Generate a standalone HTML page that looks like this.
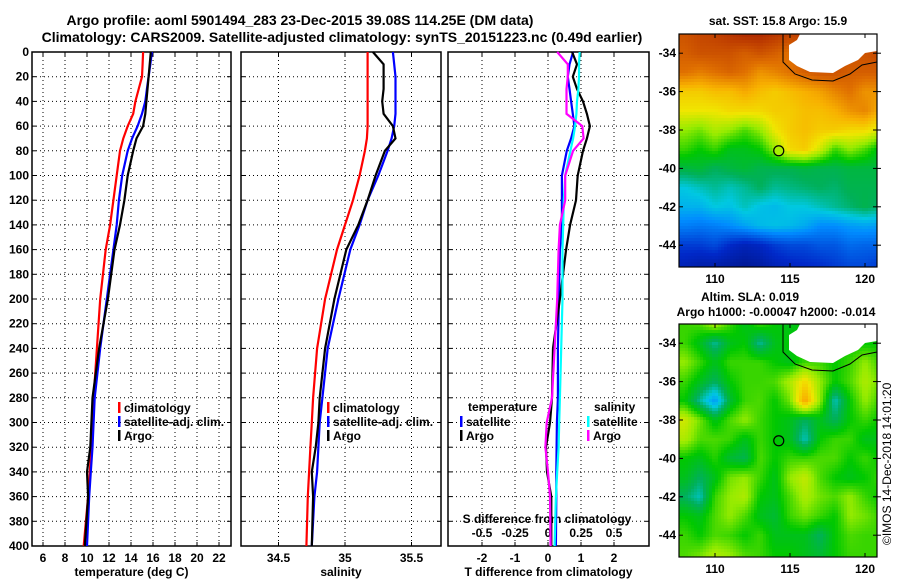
<!DOCTYPE html>
<html><head><meta charset="utf-8">
<style>
body{margin:0;background:#fff;}
svg{display:block;font-family:"Liberation Sans",Arial,sans-serif;font-weight:bold;}
text{fill:#000;}
</style></head>
<body>
<svg id="fig" width="900" height="580" xmlns="http://www.w3.org/2000/svg">
<rect width="900" height="580" fill="#fff"/>
<text x="300" y="25" font-size="14" text-anchor="middle">Argo profile: aoml 5901494_283 23-Dec-2015 39.08S 114.25E (DM data)</text>
<text x="342" y="42" font-size="14" text-anchor="middle">Climatology: CARS2009. Satellite-adjusted climatology: synTS_20151223.nc (0.49d earlier)</text>
<g id="p1"></g>
<g id="p2"></g>
<g id="p3"></g>
<g id="m1"></g>
<g id="m2"></g>
<text x="778" y="25" font-size="12" text-anchor="middle">sat. SST: 15.8 Argo: 15.9</text>
<text x="750" y="301" font-size="12" text-anchor="middle">Altim. SLA: 0.019</text>
<text x="776" y="316" font-size="12" text-anchor="middle">Argo h1000: -0.00047 h2000: -0.014</text>
<text transform="translate(891,545) rotate(-90)" font-size="12" font-weight="normal">©IMOS 14-Dec-2018 14:01:20</text>
</svg>
<script>
// ---------- profile data ----------
const depths      = [0,10,20,30,40,50,60,70,80,100,120,140,160,200,240,280,300,320,340,360,400];
const tempClim    = [15.1,15.05,15.0,14.7,14.4,14.2,13.7,13.3,13.0,12.7,12.4,12.1,11.7,11.2,10.9,10.6,10.5,10.4,10.25,10.1,9.7];
const tempSat     = [15.9,15.75,15.6,15.45,15.3,15.0,14.6,14.1,13.7,13.2,12.9,12.7,12.4,11.8,11.2,10.7,10.6,10.5,10.35,10.2,10.0];
const tempArgo    = [15.8,15.7,15.6,15.5,15.4,15.3,15.1,14.5,14.2,13.7,13.4,13.0,12.5,11.9,11.1,10.5,10.4,10.3,10.0,10.1,9.8];
const salClim     = [35.17,35.17,35.17,35.17,35.17,35.17,35.17,35.165,35.15,35.11,35.06,35.0,34.94,34.85,34.79,34.76,34.75,34.74,34.73,34.72,34.71];
const salSat      = [35.36,35.37,35.38,35.38,35.38,35.38,35.37,35.35,35.32,35.25,35.17,35.11,35.04,34.95,34.87,34.83,34.81,34.8,34.79,34.77,34.75];
const salArgo     = [35.21,35.29,35.29,35.29,35.28,35.29,35.36,35.38,35.3,35.23,35.17,35.1,35.01,34.92,34.85,34.81,34.8,34.78,34.75,34.76,34.75];
const dTempSat    = [0.76,0.65,0.6,0.65,0.7,0.75,0.8,0.7,0.57,0.42,0.42,0.42,0.36,0.33,0.3,0.3,0.27,0.26,0.25,0.25,0.24];
const dTempArgo   = [0.73,0.88,0.75,0.88,1.06,1.18,1.27,1.18,1.06,0.9,0.85,0.67,0.55,0.36,0.15,0.12,0.06,-0.06,-0.03,0.1,0.1];
const dSalSat     = [0.24,0.235,0.235,0.23,0.22,0.215,0.205,0.19,0.17,0.13,0.12,0.115,0.11,0.11,0.1,0.09,0.085,0.08,0.07,0.06,0.05];
const dSalArgo    = [0.07,0.15,0.15,0.14,0.14,0.14,0.26,0.27,0.19,0.13,0.13,0.09,0.08,0.07,0.05,0.03,-0.01,-0.02,0.0,0.015,0.02];
const depthTicks  = [0,20,40,60,80,100,120,140,160,180,200,220,240,260,280,300,320,340,360,380,400];
const tempTicks   = [6,8,10,12,14,16,18,20,22];
const salTicks    = [34.5,35,35.5];
const salTickLabels = ["34.5","35","35.5"];
const dTTicks     = [-2,-1,0,1,2];
const dSTicks     = [-0.5,-0.25,0,0.25,0.5];
const dSTickLabels = ["-0.5","-0.25","0","0.25","0.5"];

// ---------- map data (1-degree grid, rows lat -33..-45, cols lon 108..121; null = land) ----------
const mapLons = [108,109,110,111,112,113,114,115,116,117,118,119,120,121];
const mapLats = [-33,-34,-35,-36,-37,-38,-39,-40,-41,-42,-43,-44,-45];
const sstGrid = [
[0.9,0.92,0.93,0.95,0.97,0.97,0.95,0.93,0.93,0.93,0.93,0.93,0.93,0.93],
[0.88,0.9,0.9,0.9,0.88,0.9,0.88,0.85,0.88,0.9,0.9,0.9,0.9,0.92],
[0.85,0.83,0.85,0.87,0.85,0.8,0.82,0.85,0.88,0.9,0.9,0.88,0.88,0.88],
[0.72,0.72,0.74,0.74,0.77,0.74,0.72,0.74,0.76,0.78,0.82,0.85,0.8,0.8],
[0.68,0.68,0.68,0.7,0.7,0.7,0.72,0.72,0.74,0.74,0.76,0.8,0.82,0.76],
[0.6,0.58,0.62,0.6,0.56,0.6,0.68,0.72,0.74,0.72,0.72,0.7,0.7,0.66],
[0.55,0.52,0.55,0.5,0.5,0.52,0.6,0.7,0.72,0.65,0.55,0.6,0.56,0.5],
[0.47,0.48,0.45,0.47,0.48,0.46,0.46,0.46,0.47,0.46,0.46,0.47,0.47,0.47],
[0.38,0.4,0.42,0.4,0.42,0.45,0.42,0.43,0.44,0.45,0.44,0.46,0.46,0.46],
[0.35,0.35,0.38,0.37,0.4,0.37,0.36,0.38,0.38,0.4,0.42,0.44,0.46,0.44],
[0.28,0.27,0.28,0.3,0.33,0.36,0.37,0.36,0.34,0.3,0.3,0.32,0.33,0.32],
[0.18,0.18,0.2,0.15,0.12,0.14,0.18,0.2,0.2,0.22,0.22,0.25,0.24,0.24],
[0.12,0.1,0.1,0.08,0.06,0.08,0.12,0.14,0.15,0.16,0.18,0.2,0.2,0.18]];
const slaGrid = [
[0.55,0.56,0.62,0.55,0.5,0.55,0.52,0.5,0.52,0.52,0.52,0.52,0.52,0.52],
[0.55,0.5,0.42,0.5,0.52,0.42,0.5,0.52,0.52,0.52,0.52,0.52,0.52,0.52],
[0.6,0.55,0.5,0.55,0.55,0.55,0.52,0.5,0.55,0.55,0.52,0.55,0.6,0.55],
[0.55,0.5,0.45,0.52,0.55,0.55,0.56,0.62,0.7,0.6,0.52,0.56,0.62,0.58],
[0.52,0.42,0.32,0.48,0.55,0.56,0.52,0.58,0.78,0.6,0.4,0.52,0.6,0.55],
[0.65,0.58,0.5,0.56,0.6,0.55,0.52,0.5,0.45,0.5,0.45,0.52,0.55,0.52],
[0.62,0.56,0.56,0.55,0.5,0.55,0.52,0.5,0.4,0.52,0.55,0.55,0.5,0.5],
[0.52,0.5,0.54,0.48,0.46,0.56,0.52,0.55,0.55,0.56,0.56,0.52,0.55,0.52],
[0.5,0.45,0.5,0.58,0.6,0.55,0.5,0.6,0.64,0.56,0.52,0.5,0.52,0.55],
[0.45,0.4,0.55,0.6,0.62,0.52,0.5,0.56,0.62,0.58,0.56,0.6,0.55,0.52],
[0.52,0.5,0.56,0.6,0.56,0.5,0.48,0.55,0.58,0.55,0.52,0.6,0.58,0.55],
[0.55,0.52,0.56,0.55,0.52,0.55,0.5,0.5,0.5,0.45,0.52,0.56,0.55,0.55],
[0.56,0.58,0.62,0.6,0.56,0.55,0.52,0.52,0.5,0.48,0.52,0.55,0.55,0.55]];
const argoLon = 114.25, argoLat = -39.08;
const lonTicks = [110,115,120];
const latTicks = [-34,-36,-38,-40,-42,-44];

const NS="http://www.w3.org/2000/svg";
function mk(parent,tag,attrs){const e=document.createElementNS(NS,tag);for(const k in attrs)e.setAttribute(k,attrs[k]);parent.appendChild(e);return e;}
function txt(parent,x,y,s,size,anchor){const t=mk(parent,'text',{x:x,y:y,'font-size':size,'text-anchor':anchor||'middle'});t.textContent=s;return t;}

const PT=52, PB=546;
const yD = d => PT + d*(PB-PT)/400;

function panel(g,x0,x1,xs,ticks,labels,xlabel,showDepth){
  // grid
  ticks.forEach(v=>{const x=xs(v);
    const l=mk(g,'line',{x1:x,x2:x,y1:PT,y2:PB,stroke:'#000','stroke-width':1,'stroke-dasharray':'1,3'});
    
    mk(g,'line',{x1:x,x2:x,y1:PB,y2:PB-4,stroke:'#000'});mk(g,'line',{x1:x,x2:x,y1:PT,y2:PT+4,stroke:'#000'});
  });
  depthTicks.forEach(d=>{const y=yD(d);
    if(d>0&&d<400){const l=mk(g,'line',{x1:x0,x2:x1,y1:y,y2:y,stroke:'#000','stroke-width':1,'stroke-dasharray':'1,3'});
      }
    mk(g,'line',{x1:x0,x2:x0+4,y1:y,y2:y,stroke:'#000'});mk(g,'line',{x1:x1-4,x2:x1,y1:y,y2:y,stroke:'#000'});
    if(showDepth){const t=txt(g,29,y+4,String(d),12,'end');}
  });
  const b=mk(g,'rect',{x:x0,y:PT,width:x1-x0,height:PB-PT,fill:'none',stroke:'#000','stroke-width':1.5});
  
  if(labels) ticks.forEach((v,i)=>{const t=txt(g,xs(v),562,labels[i],12);});
  const xl=txt(g,(x0+x1)/2,576,xlabel,12);
}
function series(g,xs,vals,color,name){
  const pts=vals.map((v,i)=>xs(v).toFixed(1)+','+yD(depths[i]).toFixed(1)).join(' ');
  const p=mk(g,'polyline',{points:pts,fill:'none',stroke:color,'stroke-width':2.2});
  
}
function legend(g,x,y,color,label,name){
  mk(g,'rect',{x:x,y:y-10,width:2.5,height:11,fill:color});
  const t=txt(g,x+6,y,label,12,'start');
  
}

// Panel 1: temperature
const p1=document.getElementById('p1');
const xT=v=>43+(v-6)*11;
panel(p1,32,231,xT,tempTicks,tempTicks.map(String),'temperature (deg C)',true);
series(p1,xT,tempClim,'#f00','temp-climatology-line');
series(p1,xT,tempSat,'#00f','temp-satellite-line');
series(p1,xT,tempArgo,'#000','temp-argo-line');
legend(p1,118,412,'#f00','climatology','legend-climatology');
legend(p1,118,426,'#00f','satellite-adj. clim.','legend-satellite');
legend(p1,118,440,'#000','Argo','legend-argo');

// Panel 2: salinity
const p2=document.getElementById('p2');
const xS=v=>345+(v-35)*133;
panel(p2,241,441,xS,salTicks,salTickLabels,'salinity',false);
series(p2,xS,salClim,'#f00','sal-climatology-line');
series(p2,xS,salSat,'#00f','sal-satellite-line');
series(p2,xS,salArgo,'#000','sal-argo-line');
legend(p2,327,412,'#f00','climatology','legend-climatology');
legend(p2,327,426,'#00f','satellite-adj. clim.','legend-satellite');
legend(p2,327,440,'#000','Argo','legend-argo');

// Panel 3: differences
const p3=document.getElementById('p3');
const xdT=v=>548+v*33;
const xdS=v=>548+v*132;
panel(p3,448,649,xdT,dTTicks,dTTicks.map(String),'T difference from climatology',false);
dSTicks.forEach((v,i)=>{const t=txt(p3,xdS(v),537,dSTickLabels[i],12);});
const st=txt(p3,547,523,'S difference from climatology',12);
series(p3,xdT,dTempSat,'#00f','dtemp-satellite-line');
series(p3,xdT,dTempArgo,'#000','dtemp-argo-line');
series(p3,xdS,dSalSat,'#0ff','dsal-satellite-line');
series(p3,xdS,dSalArgo,'#f0f','dsal-argo-line');
txt(p3,468,411,'temperature',12,'start');
legend(p3,460,426,'#00f','satellite','legend-temp-satellite');
legend(p3,460,440,'#000','Argo','legend-temp-argo');
txt(p3,594,411,'salinity',12,'start');
legend(p3,587,426,'#0ff','satellite','legend-sal-satellite');
legend(p3,587,440,'#f0f','Argo','legend-sal-argo');

// ---------- maps ----------
const stops=[[0,[0,16,120]],[0.15,[0,40,200]],[0.3,[0,140,255]],[0.38,[0,200,225]],[0.45,[0,176,90]],[0.52,[0,200,0]],[0.6,[150,235,0]],[0.68,[240,230,0]],[0.76,[248,176,0]],[0.85,[224,112,0]],[0.93,[192,64,0]],[1,[160,24,0]]];
function cmap(v){v=Math.max(0,Math.min(1,v));for(let i=1;i<stops.length;i++){if(v<=stops[i][0]){const a=stops[i-1],b=stops[i],f=(v-a[0])/(b[0]-a[0]);const c=a[1].map((c0,k)=>Math.round(c0+(b[1][k]-c0)*f));return 'rgb('+c.join(',')+')';}}return 'rgb(160,24,0)';}
const MX0=679,MX1=877;
const lonX=l=>MX0+(l-107.6)*15;
function drawMap(g,top,grid,filledMarker){
  const bot=top+233;
  const latY=la=>top+(-33-la)*19.2;
  const cell=3;
  for(let py=top;py<bot;py+=cell){for(let px=MX0;px<MX1;px+=cell){
    const lon=107.6+(px+1.5-MX0)/15, lat=-33-(py+1.5-top)/19.2;
    let fi=Math.max(0,Math.min(12.999,lon-108)), fj=Math.max(0,Math.min(11.999,-33-lat));
    const i=Math.floor(fi),j=Math.floor(fj),a=fi-i,b=fj-j;
    const v=(1-a)*(1-b)*grid[j][i]+a*(1-b)*grid[j][i+1]+(1-a)*b*grid[j+1][i]+a*b*grid[j+1][i+1];
    mk(g,'rect',{x:px,y:py,width:Math.min(cell,MX1-px),height:Math.min(cell,bot-py),fill:cmap(v)});
  }}
  // land and coastline
  const o=top-34;
  const land=mk(g,'polygon',{points:`800,${34+o} 797,${40+o} 789,${45+o} 789,${60+o} 797,${66+o} 810,${72+o} 833,${73+o} 845,${66+o} 858,${60+o} 865,${53+o} 877,${51+o} 877,${34+o}`,fill:'#fff'});
  
  mk(g,'polyline',{points:`783,${34+o} 783,${62+o} 795,${74+o} 812,${80+o} 833,${81+o} 850,${74+o} 862,${65+o} 877,${62+o}`,fill:'none',stroke:'#000','stroke-width':1});
  mk(g,'rect',{x:MX0,y:top,width:MX1-MX0,height:233,fill:'none',stroke:'#000','stroke-width':1.2});
  lonTicks.forEach(l=>{const x=lonX(l);mk(g,'line',{x1:x,x2:x,y1:bot,y2:bot-4,stroke:'#000'});mk(g,'line',{x1:x,x2:x,y1:top,y2:top+4,stroke:'#000'});
    const t=txt(g,x,bot+16,String(l),12);});
  latTicks.forEach(la=>{const y=latY(la);mk(g,'line',{x1:MX0,x2:MX0+4,y1:y,y2:y,stroke:'#000'});mk(g,'line',{x1:MX1-4,x2:MX1,y1:y,y2:y,stroke:'#000'});
    mk(g,'line',{x1:MX1,x2:MX1+4,y1:y,y2:y,stroke:'#000'});
    const t=txt(g,676,y+4,String(la),12,'end');});
  const c=mk(g,'circle',{cx:lonX(argoLon),cy:latY(argoLat),r:5,fill:filledMarker?'#a8f000':'none',stroke:'#000','stroke-width':1.2});
  
}
drawMap(document.getElementById('m1'),34,sstGrid,true);
drawMap(document.getElementById('m2'),324,slaGrid,false);
</script>
</body></html>
